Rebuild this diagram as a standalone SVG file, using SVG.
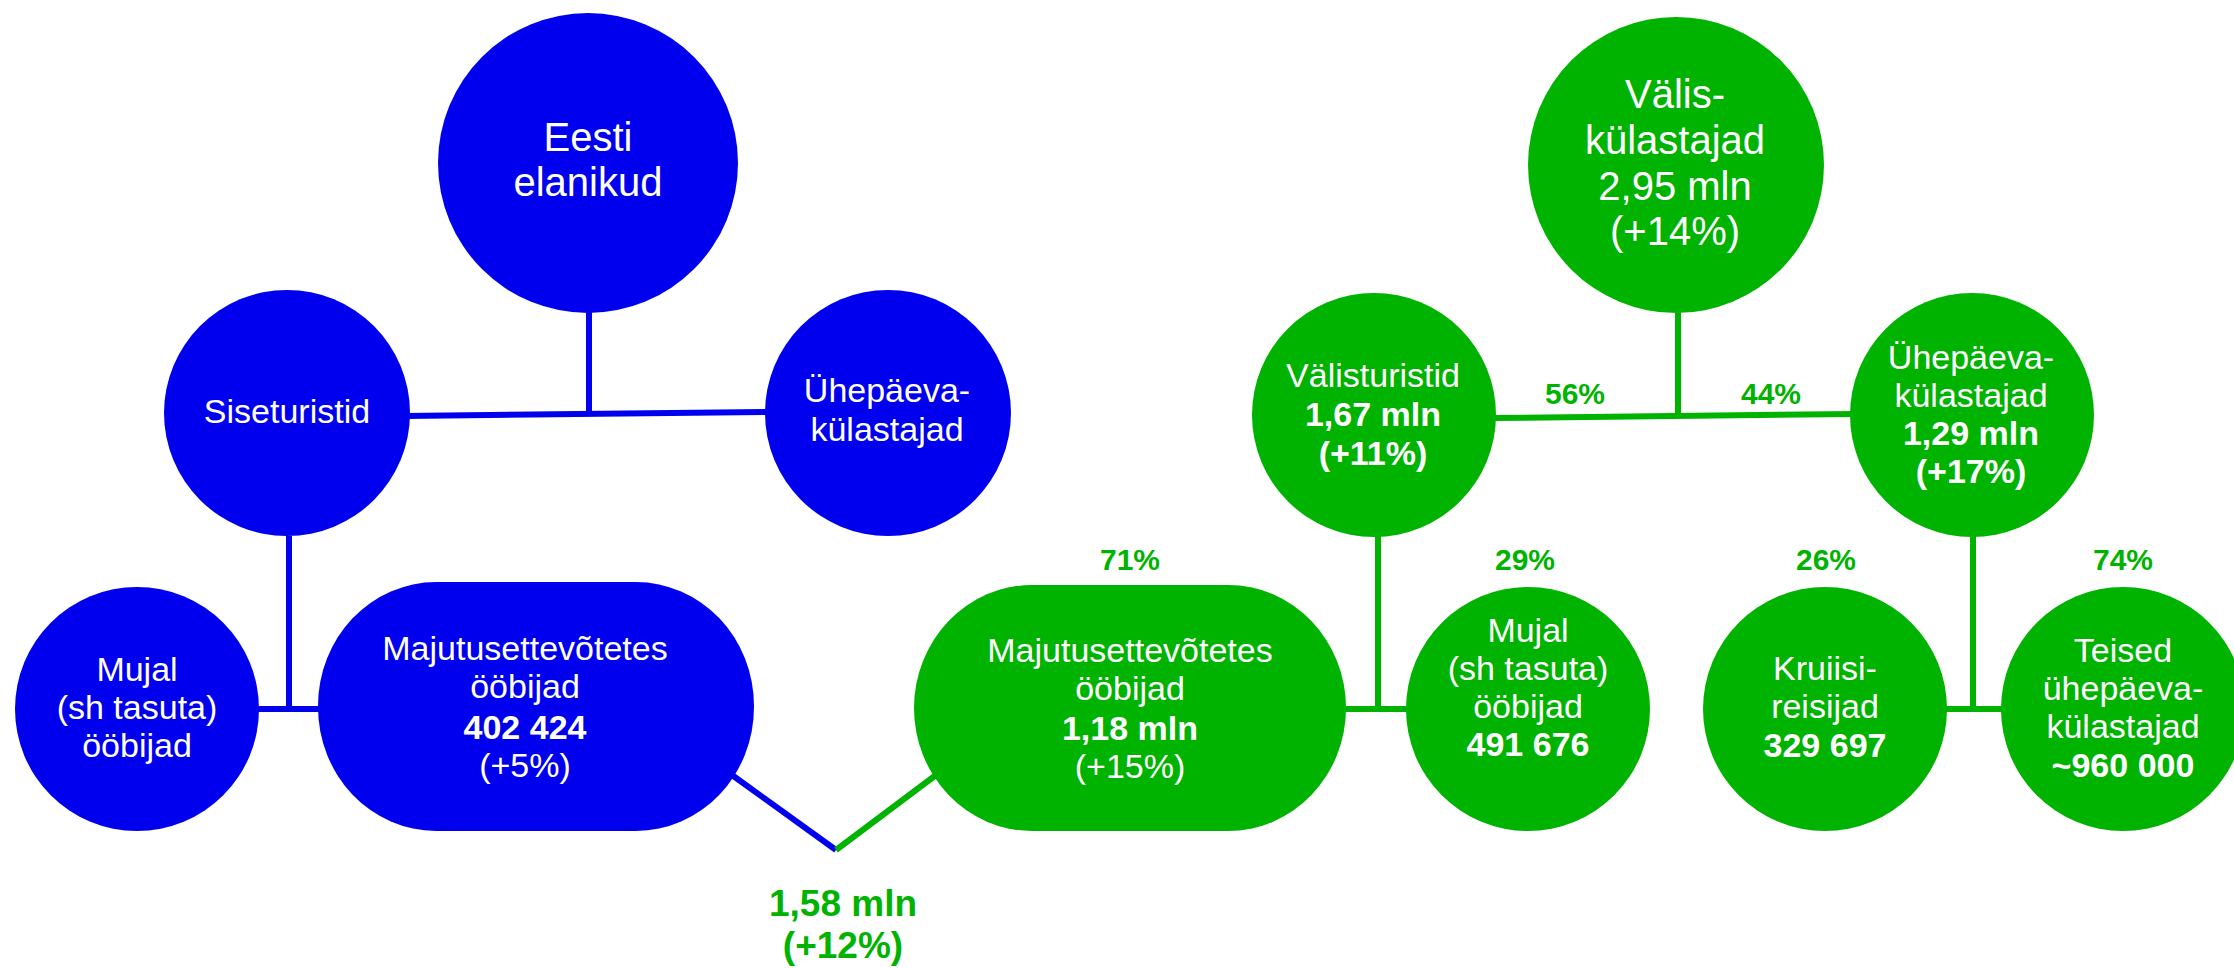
<svg xmlns="http://www.w3.org/2000/svg" width="2234" height="968" viewBox="0 0 2234 968">
<style>
  text { font-family: "Liberation Sans", "Open Sans", sans-serif; text-anchor: middle; }
  .b { fill: #0000ee; }
  .g { fill: #00b300; }
  .t { fill: #ffffff; font-size: 34px; }
  .tb { fill: #ffffff; font-size: 40px; }
  .n { font-weight: 600; }
  .lb { stroke: #0000ee; stroke-width: 6; fill: none; }
  .lg { stroke: #00b300; stroke-width: 6; fill: none; }
  .pct { fill: #00b300; font-size: 30px; font-weight: 600; }
  .tot { fill: #00b300; font-size: 37px; font-weight: 600; }
</style>
<rect width="2234" height="968" fill="#ffffff"/>
<g id="connectors">
  <line class="lb" x1="589" y1="312" x2="589" y2="414"/>
  <line class="lb" x1="405" y1="416" x2="770" y2="412"/>
  <line class="lb" x1="289" y1="536" x2="289" y2="709"/>
  <line class="lb" x1="256" y1="709" x2="322" y2="709"/>
  <line class="lb" x1="732" y1="775" x2="836" y2="850"/>
  <line class="lg" x1="836" y1="850" x2="936" y2="775"/>
  <line class="lg" x1="1678" y1="312" x2="1678" y2="415"/>
  <line class="lg" x1="1492" y1="418" x2="1855" y2="414"/>
  <line class="lg" x1="1378" y1="536" x2="1378" y2="709"/>
  <line class="lg" x1="1342" y1="709" x2="1410" y2="709"/>
  <line class="lg" x1="1973" y1="536" x2="1973" y2="709"/>
  <line class="lg" x1="1943" y1="709" x2="2005" y2="709"/>
</g>
<g id="eesti-elanikud">
  <circle class="b" cx="588" cy="163" r="150"/>
  <text class="tb" x="588" y="151">Eesti</text>
  <text class="tb" x="588" y="196">elanikud</text>
</g>
<g id="siseturistid">
  <circle class="b" cx="287" cy="413" r="123"/>
  <text class="t" x="287" y="423">Siseturistid</text>
</g>
<g id="uhepaeva-blue">
  <circle class="b" cx="888" cy="413" r="123"/>
  <text class="t" x="887" y="402">Ühepäeva-</text>
  <text class="t" x="887" y="441">külastajad</text>
</g>
<g id="mujal-blue">
  <circle class="b" cx="137" cy="709" r="122"/>
  <text class="t" x="137" y="681">Mujal</text>
  <text class="t" x="137" y="719">(sh tasuta)</text>
  <text class="t" x="137" y="757">ööbijad</text>
</g>
<g id="majutus-blue">
  <rect class="b" x="318" y="582" width="436" height="249" rx="118" ry="124"/>
  <text class="t" x="525" y="660">Majutusettevõtetes</text>
  <text class="t" x="525" y="698">ööbijad</text>
  <text class="t n" x="525" y="739">402 424</text>
  <text class="t" x="525" y="777">(+5%)</text>
</g>
<g id="total">
  <text class="tot" x="843" y="916">1,58 mln</text>
  <text class="tot" x="843" y="958">(+12%)</text>
</g>
<g id="valiskulastajad">
  <circle class="g" cx="1676" cy="165" r="148"/>
  <text class="tb" x="1675" y="108">Välis-</text>
  <text class="tb" x="1675" y="154">külastajad</text>
  <text class="tb" x="1675" y="200">2,95 mln</text>
  <text class="tb" x="1675" y="245">(+14%)</text>
</g>
<g id="valisturistid">
  <circle class="g" cx="1374" cy="415" r="122"/>
  <text class="t" x="1373" y="387">Välisturistid</text>
  <text class="t n" x="1373" y="426">1,67 mln</text>
  <text class="t n" x="1373" y="465">(+11%)</text>
</g>
<g id="uhepaeva-green">
  <circle class="g" cx="1972" cy="415" r="122"/>
  <text class="t" x="1971" y="369">Ühepäeva-</text>
  <text class="t" x="1971" y="407">külastajad</text>
  <text class="t n" x="1971" y="445">1,29 mln</text>
  <text class="t n" x="1971" y="483">(+17%)</text>
</g>
<g id="majutus-green">
  <rect class="g" x="914" y="585" width="432" height="246" rx="118" ry="123"/>
  <text class="t" x="1130" y="662">Majutusettevõtetes</text>
  <text class="t" x="1130" y="700">ööbijad</text>
  <text class="t n" x="1130" y="740">1,18 mln</text>
  <text class="t" x="1130" y="778">(+15%)</text>
</g>
<g id="mujal-green">
  <circle class="g" cx="1528" cy="709" r="122"/>
  <text class="t" x="1528" y="642">Mujal</text>
  <text class="t" x="1528" y="680">(sh tasuta)</text>
  <text class="t" x="1528" y="718">ööbijad</text>
  <text class="t n" x="1528" y="756">491 676</text>
</g>
<g id="kruiisireisijad">
  <circle class="g" cx="1825" cy="709" r="122"/>
  <text class="t" x="1825" y="680">Kruiisi-</text>
  <text class="t" x="1825" y="718">reisijad</text>
  <text class="t n" x="1825" y="757">329 697</text>
</g>
<g id="teised">
  <circle class="g" cx="2123" cy="709" r="122"/>
  <text class="t" x="2123" y="662">Teised</text>
  <text class="t" x="2123" y="700">ühepäeva-</text>
  <text class="t" x="2123" y="738">külastajad</text>
  <text class="t n" x="2123" y="777">~960 000</text>
</g>
<g id="labels">
  <text class="pct" x="1575" y="404">56%</text>
  <text class="pct" x="1771" y="404">44%</text>
  <text class="pct" x="1130" y="570">71%</text>
  <text class="pct" x="1525" y="570">29%</text>
  <text class="pct" x="1826" y="570">26%</text>
  <text class="pct" x="2123" y="570">74%</text>
</g>
</svg>
